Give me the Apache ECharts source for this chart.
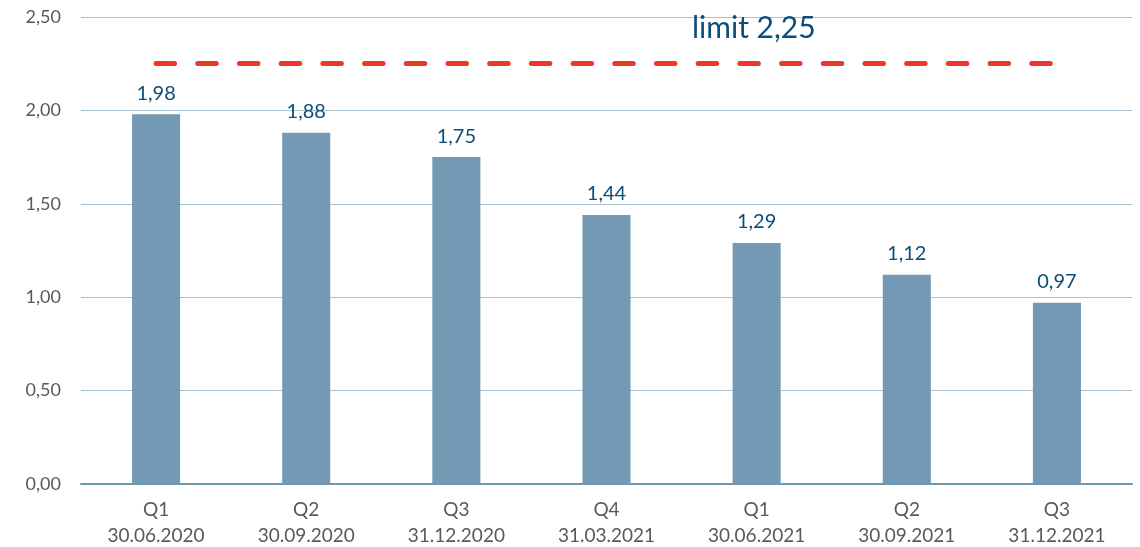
<!DOCTYPE html>
<html>
  <head>
    <meta charset="UTF-8" />
    <title>Limit chart</title>
    <script src="https://cdn.jsdelivr.net/npm/echarts@6.0.0/dist/echarts.min.js"></script>
  </head>
  <body style="margin: 0">
    <div id="chart" style="width: 1140px; height: 547px"></div>
  </body>
  <script>
// quarters and their reporting dates
const quarters = ['Q1', 'Q2', 'Q3', 'Q4', 'Q1', 'Q2', 'Q3'];
const dates = ['30.06.2020', '30.09.2020', '31.12.2020', '31.03.2021', '30.06.2021', '30.09.2021', '31.12.2021'];
const values = [1.98, 1.88, 1.75, 1.44, 1.29, 1.12, 0.97];
const limit = 2.25;

const categories = quarters.map((q, i) => q + '\n' + dates[i]);
const fmt = v => v.toFixed(2).replace('.', ',');

let myChart = echarts.init(document.getElementById('chart'));

myChart.setOption({
    animation: false,
    textStyle: { fontFamily: 'Lato' },
    title: {
        text: 'limit ' + fmt(limit),
        left: 687,
        top: 8,
        textStyle: { color: '#0e4d78', fontSize: 30, fontWeight: 'normal', fontFamily: 'Lato' }
    },
    grid: { left: 81, right: 8, top: 17, bottom: 63, outerBoundsMode: 'none' },
    xAxis: {
        type: 'category',
        data: categories,
        axisLine: { lineStyle: { color: '#6e96b0', width: 2 } },
        axisTick: { show: false },
        axisLabel: { color: '#595959', fontSize: 19, lineHeight: 26, margin: 13 }
    },
    yAxis: {
        type: 'value',
        min: 0,
        max: 2.5,
        interval: 0.5,
        axisLabel: { color: '#595959', fontSize: 18, margin: 20, formatter: fmt },
        splitLine: { lineStyle: { color: '#a9c0d0', width: 1 } }
    },
    series: [
        {
            type: 'bar',
            data: values,
            barWidth: '32%',
            itemStyle: { color: '#7399b4' },
            label: {
                show: true,
                position: 'top',
                distance: 11,
                color: '#0e4d78',
                fontSize: 20,
                formatter: p => fmt(p.value)
            },
            markLine: {
                symbol: 'none',
                silent: true,
                label: { show: false },
                lineStyle: { color: '#e8392a', width: 5, type: [18.5, 23.2], cap: 'round' },
                data: [[{ coord: [0, limit] }, { coord: [6, limit] }]]
            }
        }
    ]
});
  </script>
</html>
